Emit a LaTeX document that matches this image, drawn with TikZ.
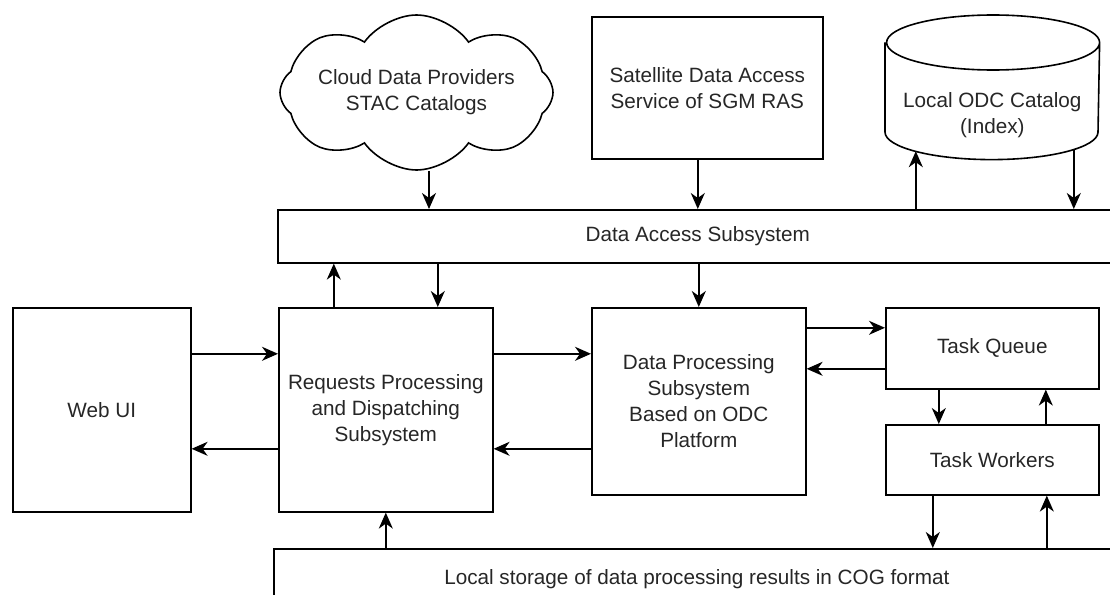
\documentclass[tikz,border=0pt]{standalone}
\usepackage{fontspec}
\setmainfont{Liberation Sans}
\usetikzlibrary{arrows.meta,shapes,positioning}

\begin{document}
\begin{tikzpicture}[x=1pt, y=-1pt, line width=1.6pt,
    >={Stealth[length=16pt,width=14pt,inset=5pt]},
    font=\fontsize{20.7pt}{26pt}\selectfont,
    box/.style={draw,align=center,inner sep=0pt,anchor=north west,text=black!85},
    endcap/.style={x radius=106.5pt,y radius=27.5pt}]
  \useasboundingbox (0,0) rectangle (1110,594);
  \clip (0,0) rectangle (1110,594);
  \node[box,minimum width=178pt,minimum height=204pt] (webui) at (12,307) {Web UI};
  \node[box,minimum width=214pt,minimum height=204pt] (req) at (278,307) {Requests Processing\\and Dispatching\\Subsystem};
  \node[box,minimum width=214pt,minimum height=187pt] (dp) at (591,307) {Data Processing\\Subsystem\\Based on ODC\\Platform};
  \node[box,minimum width=213pt,minimum height=81pt] (queue) at (885,307) {Task Queue};
  \node[box,minimum width=213pt,minimum height=70pt] (workers) at (885,424) {Task Workers};
  \node[box,minimum width=840pt,minimum height=53pt] (access) at (277,209) {Data Access Subsystem};
  \node[box,minimum width=846pt,minimum height=60pt] (storage) at (273,548) {Local storage of data processing results in COG format};
  \node[box,minimum width=231pt,minimum height=142pt] (sgm) at (591,16) {Satellite Data Access\\Service of SGM RAS};
  \node[draw,cloud,cloud puffs=8,cloud puff arc=110,cloud ignores aspect,minimum width=273pt,minimum height=155pt,
    inner xsep=-70pt,inner ysep=-16pt,align=center,text=black!85] (cloud) at (416.5,92.5) {Cloud Data Providers\\STAC Catalogs};
  % index database drawn as a cylinder
  \node[box,draw=none,minimum width=213pt,minimum height=143pt,
    label={[yshift=-27.5pt,align=center,text=black!85]center:Local ODC Catalog\\(Index)}] (odc) at (885,15) {};
  \draw ([yshift=-27.5pt]odc.north west) -- ([yshift=27.5pt]odc.south west)
    arc[start angle=180,end angle=360,endcap] -- ([yshift=-27.5pt]odc.north east)
    arc[start angle=0,end angle=180,endcap] arc[start angle=180,end angle=360,endcap];
  % sources into the data access subsystem
  \draw[->] ([xshift=12.5pt]cloud.south) -- ([xshift=12.5pt]cloud.south |- access.north);
  \draw[->] ([xshift=-9.5pt]sgm.south) -- ([xshift=-9.5pt]sgm.south |- access.north);
  \draw[->] ([xshift=-76.5pt]odc.south |- access.north) -- ([xshift=-76.5pt,yshift=8.4pt]odc.south);
  \draw[->] ([xshift=81.5pt,yshift=9.8pt]odc.south) -- ([xshift=81.5pt]odc.south |- access.north);
  \draw[->] ([xshift=-52pt]req.north) -- ([xshift=-52pt]req.north |- access.south);
  \draw[->] ([xshift=52pt]req.north |- access.south) -- ([xshift=52pt]req.north);
  \draw[->] (access.south -| dp.north) -- (dp.north);
  % horizontal links
  \draw[->] ([yshift=56pt]webui.east) -- ([yshift=56pt]webui.east -| req.west);
  \draw[->] ([yshift=-39pt]req.west) -- ([yshift=-39pt]req.west -| webui.east);
  \draw[->] ([yshift=56pt]req.east) -- ([yshift=56pt]req.east -| dp.west);
  \draw[->] ([yshift=-39pt]req.east -| dp.west) -- ([yshift=-39pt]req.east);
  \draw[->] ([yshift=20.5pt]queue.west -| dp.east) -- ([yshift=20.5pt]queue.west);
  \draw[->] ([yshift=-20.5pt]queue.west) -- ([yshift=-20.5pt]queue.west -| dp.east);
  % task queue, workers and storage
  \draw[->] ([xshift=-53.5pt]queue.south) -- ([xshift=-53.5pt]queue.south |- workers.north);
  \draw[->] ([xshift=53.5pt]workers.north) -- ([xshift=53.5pt]workers.north |- queue.south);
  \draw[->] ([xshift=-59.5pt]workers.south) -- ([xshift=-59.5pt]workers.south |- storage.north);
  \draw[->] ([xshift=54.5pt]workers.south |- storage.north) -- ([xshift=54.5pt]workers.south);
  \draw[->] (storage.north -| req.south) -- (req.south);
\end{tikzpicture}
\end{document}
